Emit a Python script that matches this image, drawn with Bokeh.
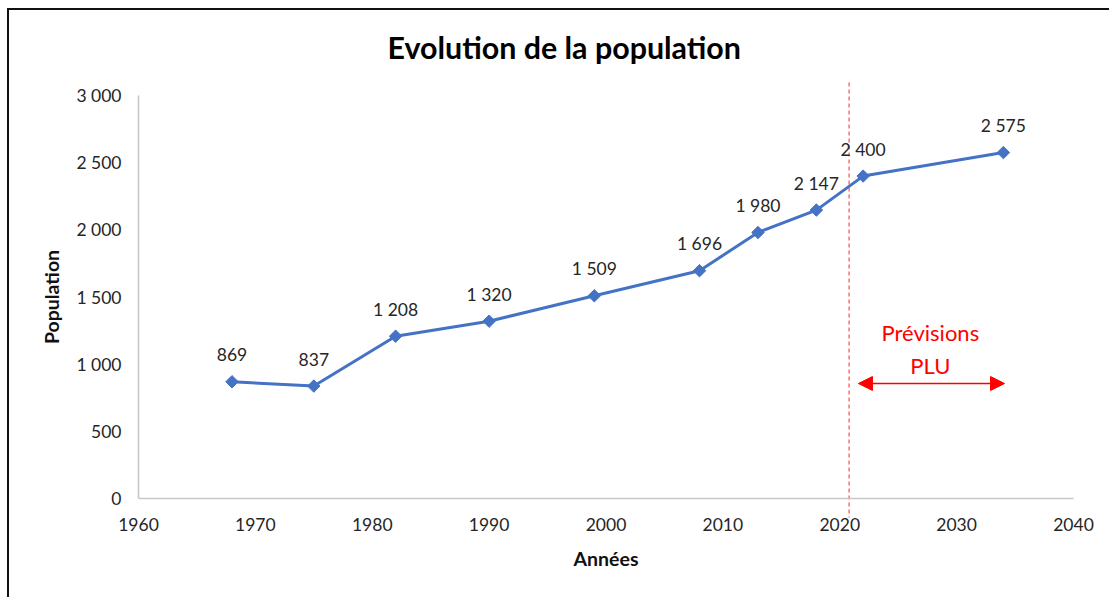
import numpy as np
from bokeh.plotting import figure
from bokeh.models import Range1d, FixedTicker, Arrow, NormalHead, ColumnDataSource, Title
from bokeh.core.properties import value
from bokeh.embed import file_html
from bokeh.resources import INLINE

# ---- data ----
years = [1968, 1975, 1982, 1990, 1999, 2008, 2013, 2018, 2022, 2034]
population = [869, 837, 1208, 1320, 1509, 1696, 1980, 2147, 2400, 2575]
x_ticks = [1960, 1970, 1980, 1990, 2000, 2010, 2020, 2030, 2040]
y_ticks = [0, 500, 1000, 1500, 2000, 2500, 3000]
y_tick_labels = ["0", "500", "1 000", "1 500", "2 000", "2 500", "3 000"]
forecast_start = 2020.8
forecast_arrow = [2021.6, 2034.1]
forecast_text = ["Prévisions", "PLU"]

def fmt(v):
    return f"{v:,}".replace(",", " ")

labels = [fmt(v) for v in population]
src = ColumnDataSource(dict(x=years, y=population, label=labels))

FONT = "Lato"

p = figure(width=1102, height=589, output_backend="svg", toolbar_location=None,
           x_range=Range1d(1949.134, 2043.080), y_range=Range1d(-699.8, 3126.6),
           min_border_left=2, min_border_right=2, min_border_top=68, min_border_bottom=7)
p.styles = {"margin-left": "7px", "margin-top": "8px",
            "border-top": "2px solid #111", "border-left": "2px solid #111"}
p.outline_line_color = None
p.xgrid.visible = False
p.ygrid.visible = False
p.background_fill_color = "white"

p.title = Title(text="Evolution de la population", align="left", offset=376,
                text_font=FONT, text_font_size="30.4px", text_font_style="bold",
                text_color="black", standoff=27)

# axes
for ax in (p.xaxis[0], p.yaxis[0]):
    ax.axis_line_color = "#C8C8C8"
    ax.axis_line_width = 1.6
    ax.major_tick_line_color = None
    ax.minor_tick_line_color = None
    ax.major_tick_out = 0
    ax.major_tick_in = 0
    ax.major_label_text_font = FONT
    ax.major_label_text_font_size = "17.5px"
    ax.major_label_text_color = "#262626"
    ax.axis_label_text_font = FONT
    ax.axis_label_text_font_size = "19.5px"
    ax.axis_label_text_font_style = "bold"
    ax.axis_label_text_color = "#111111"

p.xaxis.ticker = FixedTicker(ticks=x_ticks)
p.xaxis.fixed_location = 0
p.xaxis.bounds = (1960, 2040)
p.xaxis.axis_label = "Années"
p.xaxis.major_label_standoff = 20
p.xaxis.axis_label_standoff = 12

p.yaxis.ticker = FixedTicker(ticks=y_ticks)
p.yaxis.fixed_location = 1960
p.yaxis.bounds = (0, 3000)
p.yaxis.major_label_overrides = {t: l for t, l in zip(y_ticks, y_tick_labels)}
p.yaxis.axis_label = "Population"
p.yaxis.major_label_standoff = 17
p.yaxis.axis_label_standoff = 10

# forecast separator
p.segment(x0=[forecast_start], y0=[3097], x1=[forecast_start], y1=[-141],
          line_color="#FF5A5A", line_width=1.3, line_dash="4 3")

# series
p.line("x", "y", source=src, line_color="#4472C4", line_width=3)
p.scatter("x", "y", source=src, marker="square", angle=np.pi / 4, size=8.8,
          fill_color="#4472C4", line_color="#4472C4")
p.text("x", "y", text="label", source=src, text_align="center", text_baseline="middle",
       y_offset=-27, text_font=value(FONT), text_font_size="17.5px", text_color="#262626")

# forecast annotation
p.add_layout(Arrow(x_start=forecast_arrow[0], y_start=856, x_end=forecast_arrow[1], y_end=856,
                   line_color="red", line_width=1.5,
                   start=NormalHead(size=14, fill_color="red", line_color="red"),
                   end=NormalHead(size=14, fill_color="red", line_color="red")))
p.text(x=[2027.75, 2027.75], y=[1236, 990], text=forecast_text, text_align="center",
       text_baseline="middle", text_font=value(FONT), text_font_size="22px", text_color="red")

open("out.html", "w").write(file_html(p, INLINE))
